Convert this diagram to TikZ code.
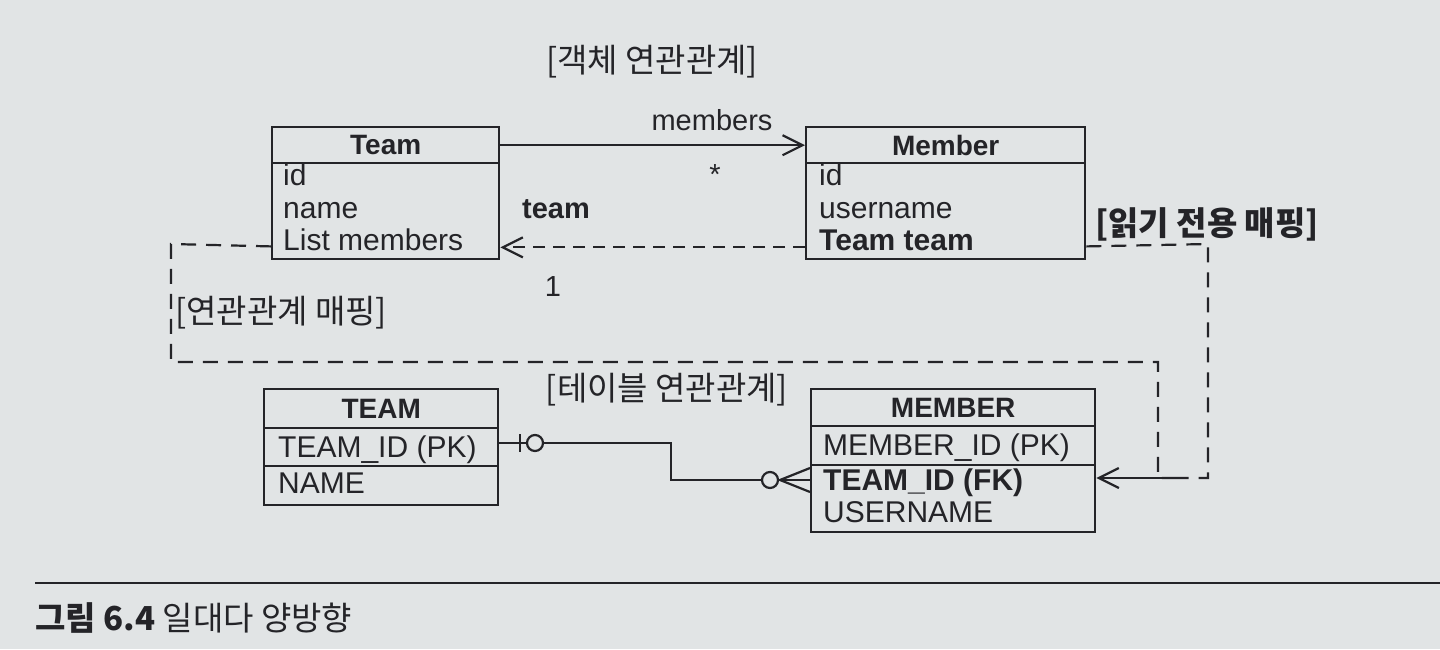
\documentclass[tikz,border=0pt]{standalone}
\usepackage{fontspec}
\setmainfont{Liberation Sans}
\newfontfamily\kr{Noto Sans CJK KR}
\usetikzlibrary{arrows.meta,calc}
\definecolor{paper}{RGB}{225,228,229}
\definecolor{ink}{RGB}{36,36,40}
\tikzset{
  boxline/.style={draw=ink, line width=2.4pt},
  hdr/.style={boxline, anchor=north west, inner sep=0pt, text=ink, font=\fontsize{28}{30}\selectfont\bfseries},
  cell/.style={boxline, anchor=north west, inner sep=0pt},
  row/.style={anchor=base west, inner sep=0pt, text=ink, font=\fontsize{30}{32}\selectfont},
  rowb/.style={row, font=\fontsize{30}{32}\selectfont\bfseries},
  lab/.style={inner sep=0pt, text=ink, font=\kr\fontsize{33}{36}\selectfont},
  labb/.style={inner sep=0pt, text=ink, font=\kr\fontsize{33}{36}\selectfont\bfseries},
  txt/.style={inner sep=0pt, text=ink, font=\fontsize{29}{32}\selectfont},
  dsh/.style={draw=ink, line width=2.2pt, dash pattern=on 15pt off 10pt},
  dshs/.style={draw=ink, line width=2pt, dash pattern=on 12pt off 8pt},
  conn/.style={draw=ink, line width=2.2pt},
  tip/.style={-{Straight Barb[length=20pt,width=20pt,line width=2.2pt]}},
}
\begin{document}
\begin{tikzpicture}[x=1pt,y=-1pt]
\fill[paper] (0,0) rectangle (1440,649);
\useasboundingbox (0,0) rectangle (1440,649);

% ---------- object model ----------
\node[lab] (objlab) at (652,62) {[객체 연관관계]};

\node[hdr, minimum width=227pt, minimum height=36pt] (teamh) at (271,126) {Team};
\node[cell, minimum width=227pt, minimum height=96pt] (teamb) at (271,162) {};
\node[row] (tid) at (283,185) {id};
\node[row] (tname) at (283,218) {name};
\node[row] (tlist) at (283,250) {List members};

\node[hdr, minimum width=279pt, minimum height=36pt] (memh) at (805,126) {Member};
\node[cell, minimum width=279pt, minimum height=96pt] (memb) at (805,162) {};
\node[row] (mid) at (819,185) {id};
\node[row] (muser) at (819,218) {username};
\node[rowb] (mteam) at (819,250) {Team team};

\node[txt, anchor=base] (memlab) at (712,130) {members};
\node[txt] (star) at (715,175) {*};
\node[txt, anchor=base, font=\fontsize{29}{32}\selectfont\bfseries] (teamlab) at (556,218) {team};
\node[txt] (one) at (553,287) {1};
\node[labb, anchor=base west] (rolab) at (1095,235) {[읽기 전용 매핑]};
\node[lab, anchor=west] (maplab) at (175,313) {[연관관계 매핑]};

\coordinate (tmR) at (teamh.east);
\coordinate (mmL) at (memh.west);
\draw[conn, tip] (tmR) -- (mmL);

\coordinate (mL) at ($(memb.south west)+(0,-13)$);
\coordinate (tR) at ($(teamb.south east)+(0,-13)$);
\draw[dshs, tip] (mL) -- (tR);

% ---------- table model ----------
\node[lab] (tablab) at (667,390) {[테이블 연관관계]};

\node[hdr, minimum width=234pt, minimum height=39pt] (TEAMh) at (263,388) {TEAM};
\node[cell, minimum width=234pt, minimum height=38pt] (TEAMr1) at (263,427) {};
\node[cell, minimum width=234pt, minimum height=39pt] (TEAMr2) at (263,465) {};
\node[row] (Tpk) at (278,457) {TEAM\_ID (PK)};
\node[row] (Tname) at (278,493) {NAME};

\node[hdr, minimum width=284pt, minimum height=37pt] (MEMh) at (810,388) {MEMBER};
\node[cell, minimum width=284pt, minimum height=39pt] (MEMr1) at (810,425) {};
\node[cell, minimum width=284pt, minimum height=67pt] (MEMr2) at (810,464) {};
\node[row] (Mpk) at (823,455) {MEMBER\_ID (PK)};
\node[rowb] (Mfk) at (823,490) {TEAM\_ID (FK)};
\node[row] (Muser) at (823,522) {USERNAME};

% ER connector: one (optional) to many (optional)
\coordinate (erA) at (TEAMr1.east);
\coordinate (erB) at (MEMr2.west |- 0,480);
\coordinate (c1) at (535,443);
\coordinate (c2) at (770,480);
\draw[conn] (erA |- c1) -- ($(c1)+(-8,0)$);
\draw[conn] (520,434) -- (520,452);
\draw[conn] (c1) circle (8pt);
\draw[conn] ($(c1)+(8,0)$) -- (671,443) -- (671,480) -- ($(c2)+(-8,0)$);
\draw[conn] (c2) circle (8pt);
\draw[conn] ($(c2)+(8,0)$) -- (erB);
\draw[conn] ($(c2)+(10,0)$) -- ($(erB)+(0,-12)$);
\draw[conn] ($(c2)+(10,0)$) -- ($(erB)+(0,12)$);

% ---------- mapping dashed lines ----------
\coordinate (tL) at ($(teamb.south west)+(0,-14)$);
\coordinate (mR) at ($(memb.south east)+(0,-14)$);
\coordinate (join) at (1177,478);
\coordinate (fkR) at (MEMr2.east |- join);
\draw[dsh] (tL) -- (171,244) -- (171,362) -- (1158,362) -- (1158,478) -- (join);
\draw[dsh] (mR) -- (1208,244) -- (1208,478) -- (join);
\draw[conn, tip] (join) -- (fkR);

% ---------- caption ----------
\coordinate (capL) at (35,583);
\coordinate (capR) at (1440,583);
\draw[draw=ink, line width=1.6pt] (capL) -- (capR);
\node[inner sep=0pt, anchor=base west, text=ink, font=\kr\fontsize{33}{36}\selectfont] (cap) at (35,630) {\textbf{그림 6.4} 일대다 양방향};
\end{tikzpicture}
\end{document}
